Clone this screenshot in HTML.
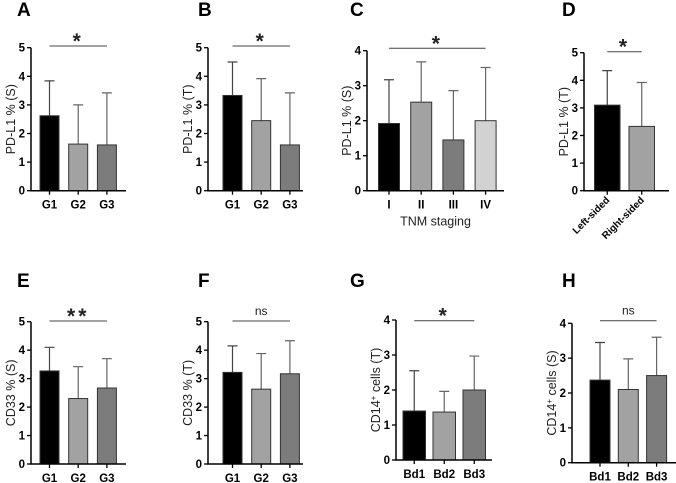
<!DOCTYPE html>
<html><head><meta charset="utf-8"><style>
html,body{margin:0;padding:0;background:#fff;}
svg{display:block;font-family:"Liberation Sans",Arial,sans-serif;}
</style></head><body>
<svg id="fig" width="676" height="483" viewBox="0 0 676 483" xmlns="http://www.w3.org/2000/svg"></svg>
<script>
// ---- data (top level) ----
const catsA = ["G1","G2","G3"];
const meanA = [2.62,1.63,1.60];
const errA  = [3.84,3.00,3.42];
const catsB = ["G1","G2","G3"];
const meanB = [3.33,2.45,1.60];
const errB  = [4.50,3.92,3.42];
const catsC = ["I","II","III","IV"];
const meanC = [1.92,2.53,1.45,2.00];
const errC  = [3.17,3.68,2.86,3.52];
const catsD = ["Left-sided","Right-sided"];
const meanD = [3.10,2.33];
const errD  = [4.35,3.92];
const catsE = ["G1","G2","G3"];
const meanE = [3.27,2.30,2.67];
const errE  = [4.10,3.42,3.70];
const catsF = ["G1","G2","G3"];
const meanF = [3.22,2.63,3.17];
const errF  = [4.15,3.88,4.33];
const catsG = ["Bd1","Bd2","Bd3"];
const meanG = [1.40,1.37,2.00];
const errG  = [2.55,1.96,2.97];
const catsH = ["Bd1","Bd2","Bd3"];
const meanH = [2.37,2.10,2.50];
const errH  = [3.45,2.98,3.60];
const ticksY5 = [0,1,2,3,4,5];
const ticksY4 = [0,1,2,3,4];

const NS="http://www.w3.org/2000/svg";
const svg=document.getElementById('fig');
function mk(tag,attrs,parent){const e=document.createElementNS(NS,tag);for(const k in attrs)e.setAttribute(k,attrs[k]);(parent||svg).appendChild(e);return e;}

function panel(o){
  const g=mk('g',{});
  
  
  const ymax=o.ticks[o.ticks.length-1];
  const ys=v=>o.y0-(o.y0-o.yTop)*v/ymax;
  const xc=i=>o.x0+o.start+o.bw/2+i*o.step;
  const L=mk('text',{x:o.lx,y:o.ly,'font-size':19,'font-weight':'bold',fill:'#000'},g);
  L.textContent=o.letter;
  
  
  o.means.forEach((m,i)=>{
    const x=xc(i);
    const eb=mk('path',{d:`M${x},${ys(m)}V${ys(o.errs[i])}M${x-5},${ys(o.errs[i])}H${x+5}`,stroke:i==0?'#444':'#666','stroke-width':1.2,fill:'none'},g);
    
    
    const r=mk('rect',{x:x-o.bw/2,y:ys(m),width:o.bw,height:o.y0-ys(m),fill:o.colors[i],stroke:'#333','stroke-width':1},g);
    
    
    mk('line',{x1:x,x2:x,y1:o.y0,y2:o.y0+4,stroke:'#000','stroke-width':1.3},g);
    if(o.rot){
      const t=mk('text',{x:x+3,y:o.y0+10,'font-size':10,'font-weight':'bold','text-anchor':'end',transform:`rotate(-45 ${x+3} ${o.y0+10})`},g);
      t.textContent=o.cats[i];
      
      
    } else {
      const t=mk('text',{x:x,y:o.y0+18,'font-size':11.5,'font-weight':'bold','text-anchor':'middle'},g);
      t.textContent=o.cats[i];
      
      
    }
  });
  const ax=mk('path',{d:`M${o.x0},${ys(ymax)}V${o.y0}H${o.xEnd}`,stroke:'#000','stroke-width':1.5,fill:'none'},g);
  
  
  o.ticks.forEach(v=>{
    mk('line',{x1:o.x0-4,x2:o.x0,y1:ys(v),y2:ys(v),stroke:'#000','stroke-width':1.3},g);
    const t=mk('text',{x:o.x0-6,y:ys(v)+4,'font-size':11.5,'font-weight':'bold','text-anchor':'end'},g);
    t.textContent=v;
    
    
  });
  const yt=mk('text',{x:o.ytx,y:(ys(ymax)+o.y0)/2,'font-size':12.5,'text-anchor':'middle',fill:'#222',transform:`rotate(-90 ${o.ytx} ${(ys(ymax)+o.y0)/2})`},g);
  yt.innerHTML=o.ytitle;
  
  
  if(o.xtitle){
    const xt=mk('text',{x:(o.x0+o.xEnd)/2,y:o.y0+35,'font-size':12.5,'text-anchor':'middle',fill:'#222'},g);
    xt.textContent=o.xtitle;
    
    
  }
  const s1=xc(o.sig[0]),s2=xc(o.sig[1]);
  const sl=mk('line',{x1:s1,x2:s2,y1:o.sy,y2:o.sy,stroke:'#444','stroke-width':1},g);
  
  
  const isNs=o.mark=='ns';
  const st=mk('text',{x:(s1+s2)/2,y:isNs?o.sy-6:o.sy+2,'font-size':isNs?12:21,'font-weight':isNs?'normal':'bold','text-anchor':'middle',fill:'#222','letter-spacing':isNs?0:3},g);
  st.textContent=o.mark;
  
  
}
const c3=['#000','#a2a2a2','#7c7c7c'];
panel({letter:'A',lx:17,ly:16,cats:catsA,means:meanA,errs:errA,ticks:ticksY5,x0:31,xEnd:126,y0:190.7,yTop:47.7,start:9,bw:19,step:28.7,colors:c3,ytitle:'PD-L1 % (S)',ytx:15,sig:[0,2],sy:46,mark:'*'});
panel({letter:'B',lx:198,ly:16,cats:catsB,means:meanB,errs:errB,ticks:ticksY5,x0:208,xEnd:303,y0:190.7,yTop:47.7,start:15,bw:19,step:28.7,colors:c3,ytitle:'PD-L1 % (T)',ytx:192,sig:[0,2],sy:46,mark:'*'});
panel({letter:'C',lx:350,ly:16,cats:catsC,means:meanC,errs:errC,ticks:ticksY4,x0:367,xEnd:504,y0:190.7,yTop:50.7,start:11.5,bw:21,step:32.2,colors:['#000','#a2a2a2','#7c7c7c','#d2d2d2'],ytitle:'PD-L1 % (S)',ytx:351,xtitle:'TNM staging',sig:[0,3],sy:48.3,mark:'*'});
panel({letter:'D',lx:562,ly:16,cats:catsD,means:meanD,errs:errD,ticks:ticksY5,x0:584,xEnd:669,y0:190.7,yTop:52.7,start:10.5,bw:25.5,step:34.5,colors:['#000','#a2a2a2'],ytitle:'PD-L1 % (T)',ytx:568,sig:[0,1],sy:51.7,mark:'*',rot:true});
panel({letter:'E',lx:17,ly:287,cats:catsE,means:meanE,errs:errE,ticks:ticksY5,x0:31,xEnd:126,y0:464,yTop:321.7,start:9,bw:19,step:28.7,colors:c3,ytitle:'CD33 % (S)',ytx:15,sig:[0,2],sy:321,mark:'**'});
panel({letter:'F',lx:198,ly:287,cats:catsF,means:meanF,errs:errF,ticks:ticksY5,x0:208,xEnd:303,y0:464,yTop:321.7,start:15,bw:19,step:28.7,colors:c3,ytitle:'CD33 % (T)',ytx:192,sig:[0,2],sy:321,mark:'ns'});
panel({letter:'G',lx:350,ly:287,cats:catsG,means:meanG,errs:errG,ticks:ticksY4,x0:396,xEnd:492,y0:460,yTop:320,start:7,bw:22.5,step:30,colors:c3,ytitle:'CD14<tspan baseline-shift="super" font-size="8">+</tspan> cells (T)',ytx:380,sig:[0,2],sy:320.7,mark:'*'});
panel({letter:'H',lx:562,ly:287,cats:catsH,means:meanH,errs:errH,ticks:ticksY4,x0:572,xEnd:676,y0:462.7,yTop:323.3,start:18,bw:20,step:28.3,colors:c3,ytitle:'CD14<tspan baseline-shift="super" font-size="8">+</tspan> cells (S)',ytx:556,sig:[0,2],sy:320.7,mark:'ns'});
</script>
</body></html>
